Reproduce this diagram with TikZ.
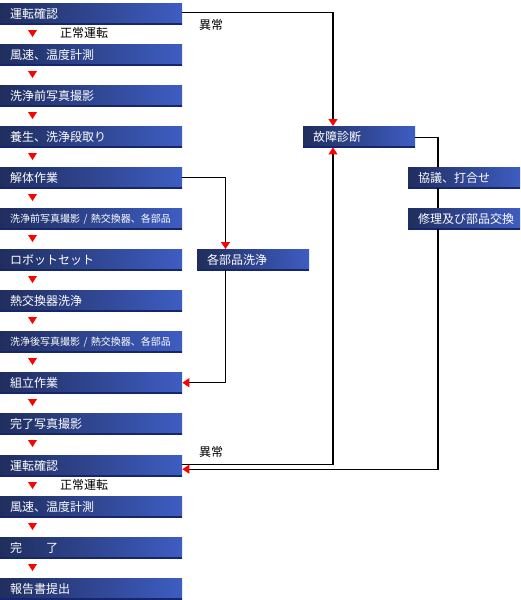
\documentclass[tikz,border=0pt]{standalone}
\usepackage{fontspec}
\setmainfont{Noto Sans CJK JP}
\usepackage{xcolor}
\usepackage{tikz}
\usetikzlibrary{arrows.meta,calc}

\definecolor{navyd}{RGB}{30,43,88}
\definecolor{blueL}{RGB}{64,96,200}
\definecolor{boxedge}{RGB}{22,38,110}
\definecolor{arrowred}{RGB}{255,0,0}
\pgfdeclarehorizontalshading{boxshade}{100bp}{color(0bp)=(navyd); color(22bp)=(navyd); color(78bp)=(blueL); color(100bp)=(blueL)}

\tikzset{
  stepbox/.style={rectangle, anchor=north west, shade, shading=boxshade,
    minimum height=21pt, inner xsep=10pt, inner ysep=0pt,
    text width=162pt, align=left, text=white,
    font=\fontsize{12pt}{14pt}\selectfont,
    path picture={\draw[boxedge, line width=2.4pt]
      (path picture bounding box.south west) -- (path picture bounding box.south east);}},
  smallbox/.style={stepbox, font=\fontsize{10pt}{12pt}\selectfont},
  sidebox/.style={stepbox, text width=92pt},
  memo/.style={anchor=west, inner sep=0pt, font=\fontsize{12pt}{14pt}\selectfont},
  flow/.style={draw=black, line width=1.2pt, -{Triangle[length=7pt,width=9pt,color=arrowred]}},
  wire/.style={draw=black, line width=1.2pt},
  downtri/.pic={\fill[arrowred] (-4.5,-3.5) -- (4.5,-3.5) -- (0,3.5) -- cycle;}
}

\begin{document}
\begin{tikzpicture}[x=1pt,y=-1pt]
\useasboundingbox (0,0) rectangle (520,600);

% main flow
\node[stepbox] (run1) at (0,3) {運転確認};
\node[stepbox] (speed1) at (0,44) {風速、温度計測};
\node[stepbox] (prephoto) at (0,85) {洗浄前写真撮影};
\node[stepbox] (cover) at (0,126) {養生、洗浄段取り};
\node[stepbox] (disasm) at (0,167) {解体作業};
\node[smallbox] (prephoto2) at (0,208) {洗浄前写真撮影 / 熱交換器、各部品};
\node[stepbox] (robot) at (0,249) {ロボットセット};
\node[stepbox] (hexwash) at (0,290) {熱交換器洗浄};
\node[smallbox] (postphoto) at (0,331) {洗浄後写真撮影 / 熱交換器、各部品};
\node[stepbox] (assem) at (0,372) {組立作業};
\node[stepbox] (donephoto) at (0,413) {完了写真撮影};
\node[stepbox] (run2) at (0,455) {運転確認};
\node[stepbox] (speed2) at (0,496) {風速、温度計測};
\node[stepbox] (finish) at (0,537) {完　　了};
\node[stepbox] (report) at (0,578) {報告書提出};

% red marks between the steps
\pic at (32.5,33.5) {downtri};
\pic at (32.5,74.5) {downtri};
\pic at (32.5,115.5) {downtri};
\pic at (32.5,156.5) {downtri};
\pic at (32.5,197.5) {downtri};
\pic at (32.5,238.5) {downtri};
\pic at (32.5,279.5) {downtri};
\pic at (32.5,320.5) {downtri};
\pic at (32.5,361.5) {downtri};
\pic at (32.5,402.5) {downtri};
\pic at (32.5,443.5) {downtri};
\pic at (32.5,485.5) {downtri};
\pic at (32.5,526.5) {downtri};
\pic at (32.5,567.5) {downtri};

\node[memo] (ok1) at (60,33) {正常運転};
\node[memo] (ok2) at (60,485) {正常運転};

% side boxes
\node[sidebox] (diag) at (303,126) {故障診断};
\node[sidebox] (agree) at (408,167) {協議、打合せ};
\node[sidebox] (repair) at (408,208) {修理及び部品交換};
\node[sidebox] (wash) at (197,249) {各部品洗浄};

\node[memo] (ng1) at (199,25) {異常};
\node[memo] (ng2) at (199,452) {異常};

% trouble loop
\draw[flow] ([yshift=1pt]run1.east) -| ([xshift=30pt]diag.north west);
\draw[flow] ([yshift=1.5pt]run2.east) -| ([xshift=30pt]diag.south west);
\draw[wire] ([yshift=-0.5pt]diag.east) -| ([xshift=30pt]agree.north west);
\draw[wire] ([xshift=30pt]agree.south west) -- ([xshift=30pt]repair.north west);
\draw[flow] ([xshift=30pt]repair.south west) |- ([yshift=-3.5pt]run2.east);

% parts washing
\draw[flow] (disasm.east) -| ([xshift=28.5pt]wash.north west);
\draw[flow] ([xshift=28.5pt]wash.south west) |- (assem.east);
\end{tikzpicture}
\end{document}
